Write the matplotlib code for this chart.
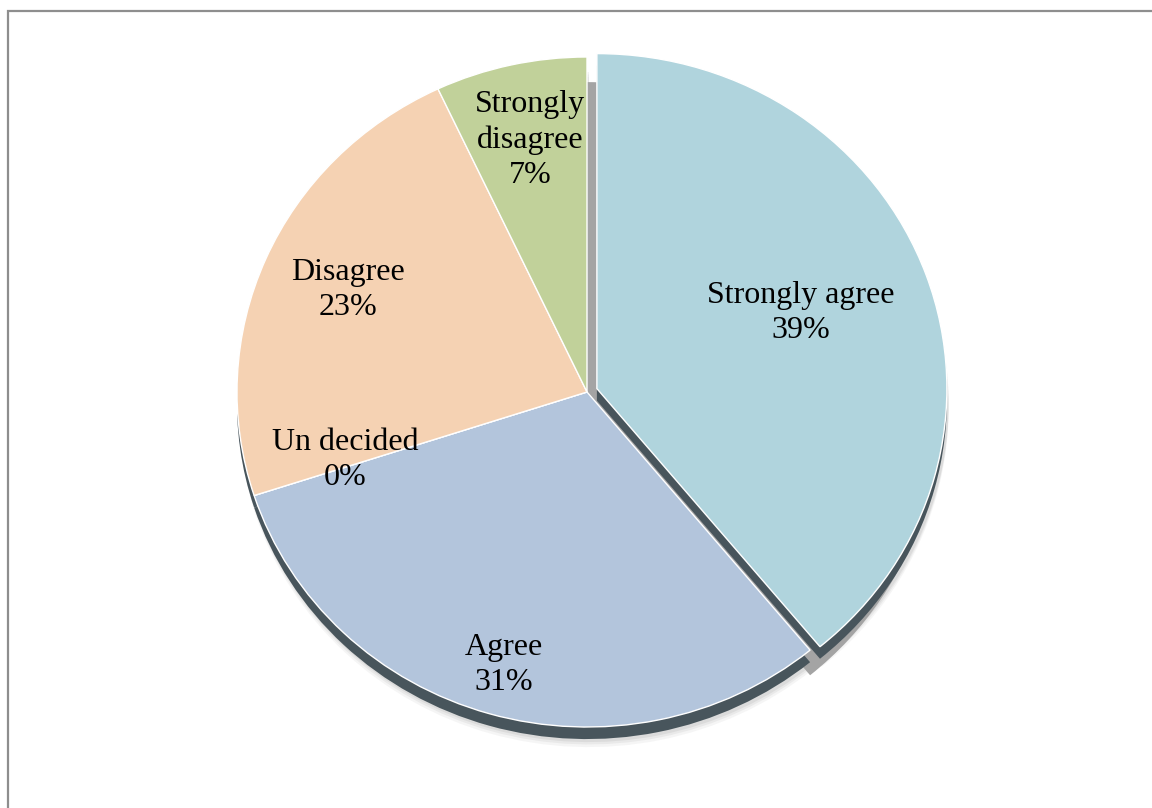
import matplotlib.pyplot as plt
from matplotlib.patches import Rectangle

categories = ['Strongly agree', 'Agree', 'Un decided', 'Disagree', 'Strongly disagree']
percent = [39, 31, 0, 23, 7]
colors = ['#b0d4dd', '#b3c5dc', '#c9d9e8', '#f5d2b3', '#c1d19a']
explode = [0.03, 0, 0, 0, 0]

# label centres, in units of the pie radius
label_xy = [(0.611, 0.236), (-0.237, -0.815), (-0.691, -0.203), (-0.683, 0.304), (-0.163, 0.752)]
label_text = ['Strongly agree', 'Agree', 'Un decided', 'Disagree', 'Strongly\ndisagree']

fig = plt.figure(figsize=(11.52, 8.08), dpi=100)
ax = fig.add_axes([0, 0, 1, 1])

# soft drop shadow
for k, a in [(0.06, 0.06), (0.052, 0.08), (0.045, 0.1)]:
    ax.pie(percent, explode=explode, startangle=90, counterclock=False,
           center=(0.005, -k), colors=['#606060'] * 5,
           wedgeprops=dict(alpha=a, linewidth=0))

# side face showing in the gap of the pulled-out slice
side, _ = ax.pie([percent[0], 100 - percent[0]], startangle=90, counterclock=False,
                 center=(0, -0.075), colors=['#a4a4a4', 'none'],
                 wedgeprops=dict(linewidth=0))
clip = Rectangle((-0.2, -0.2), 0.23, 1.4, transform=ax.transData)
side[0].set_clip_path(clip)

# dark extruded edge under the top faces
ax.pie(percent, explode=explode, startangle=90, counterclock=False,
       center=(0, -0.036), colors=['#48555c'] * 5,
       wedgeprops=dict(linewidth=0))

# top faces
ax.pie(percent, explode=explode, startangle=90, counterclock=False,
       colors=colors, wedgeprops=dict(edgecolor='white', linewidth=1))

for (x, y), name, p in zip(label_xy, label_text, percent):
    ax.text(x, y, f'{name}\n{p}%', ha='center', va='center', fontsize=23,
            family='Liberation Serif', linespacing=1.27, color='black')

ax.set_aspect('auto')
ax.set_xlim(-587 / 350, (1152 - 587) / 350)
ax.set_ylim(-(808 - 392) / 335, 392 / 335)
ax.axis('off')

fig.add_artist(Rectangle((7.5 / 1152, -0.1), 1.2, 1.1 - 11.5 / 808,
                         transform=fig.transFigure, fill=False,
                         edgecolor='#8e8e8e', linewidth=1.6))

fig.savefig('out.png', dpi=100)
